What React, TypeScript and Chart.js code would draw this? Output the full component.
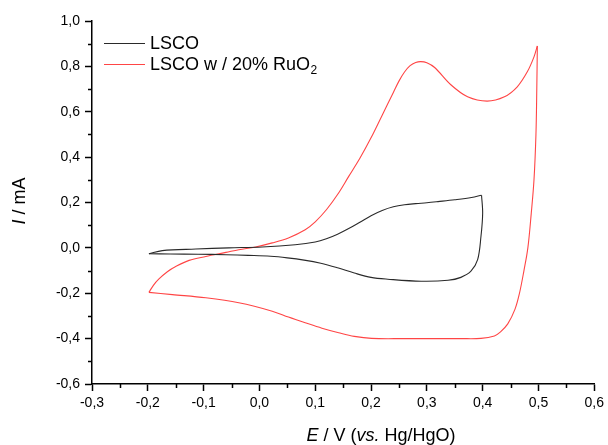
import React, { useEffect, useRef } from "react";
import { Chart, registerables } from "chart.js";
Chart.register(...registerables);

// Axis ranges / tick steps
const xRange = [-0.3, 0.6];
const yRange = [-0.6, 1.0];
const xMajorStep = 0.1;
const yMajorStep = 0.2;
const xMinorTicks = [-0.25, -0.15, -0.05, 0.05, 0.15, 0.25, 0.35, 0.45, 0.55];
const yMinorTicks = [-0.5, -0.3, -0.1, 0.1, 0.3, 0.5, 0.7, 0.9];

// Series labels
const seriesLabels = ["LSCO", "LSCO w / 20% RuO"];

// LSCO (black) – anodic sweep
const lscoFwdE = [-0.198, -0.174, -0.114, -0.055, 0.005, 0.064, 0.1, 0.12, 0.14, 0.16, 0.18, 0.2, 0.22, 0.24, 0.26, 0.28, 0.3, 0.32, 0.35, 0.38, 0.398];
const lscoFwdI = [-0.026, -0.012, -0.005, 0.0, 0.004, 0.014, 0.026, 0.04, 0.06, 0.085, 0.113, 0.142, 0.165, 0.181, 0.19, 0.195, 0.199, 0.204, 0.212, 0.222, 0.232];
// LSCO (black) – cathodic sweep
const lscoRevE = [0.398, 0.4, 0.397, 0.391, 0.379, 0.361, 0.338, 0.29, 0.23, 0.2, 0.17, 0.14, 0.11, 0.08, 0.05, 0.02, -0.02, -0.06, -0.11, -0.16, -0.198];
const lscoRevI = [0.232, 0.153, 0.051, -0.052, -0.103, -0.13, -0.143, -0.147, -0.138, -0.13, -0.111, -0.088, -0.068, -0.054, -0.044, -0.037, -0.033, -0.03, -0.028, -0.027, -0.026];

// LSCO w / 20% RuO2 (red) – anodic sweep
const ruoFwdE = [-0.198, -0.19, -0.18, -0.165, -0.15, -0.126, -0.096, -0.06, -0.037, -0.007, 0.023, 0.052, 0.082, 0.1, 0.12, 0.14, 0.16, 0.18, 0.2, 0.22, 0.24, 0.25, 0.26, 0.27, 0.28, 0.289, 0.3, 0.314, 0.343, 0.373, 0.408, 0.439, 0.462, 0.48, 0.492, 0.498];
const ruoFwdI = [-0.196, -0.165, -0.137, -0.105, -0.082, -0.055, -0.038, -0.02, -0.008, 0.004, 0.022, 0.044, 0.08, 0.115, 0.168, 0.235, 0.315, 0.395, 0.485, 0.585, 0.685, 0.735, 0.775, 0.803, 0.817, 0.821, 0.816, 0.795, 0.719, 0.666, 0.647, 0.666, 0.71, 0.776, 0.842, 0.89];
// LSCO w / 20% RuO2 (red) – cathodic sweep
const ruoRevE = [0.498, 0.497, 0.4955, 0.492, 0.487, 0.481, 0.474, 0.466, 0.458, 0.445, 0.432, 0.421, 0.397, 0.36, 0.32, 0.26, 0.201, 0.17, 0.142, 0.112, 0.082, 0.052, 0.023, -0.037, -0.096, -0.156, -0.198];
const ruoRevI = [0.89, 0.7, 0.5, 0.3, 0.15, 0.0, -0.1, -0.2, -0.27, -0.335, -0.37, -0.388, -0.399, -0.4, -0.4, -0.4, -0.399, -0.39, -0.374, -0.354, -0.33, -0.305, -0.279, -0.242, -0.22, -0.206, -0.196];

const BLACK = "#2a2a2a";
const RED = "#ff4545";
const FONT = "'Liberation Sans', Arial, sans-serif";

const pts = (xs: number[], ys: number[]) => xs.map((x, i) => ({ x, y: ys[i] }));

const fmt = (v: number) => {
  const n = Math.abs(v) < 1e-9 ? 0 : v;
  return n.toFixed(1).replace(".", ",");
};

const decorPlugin = {
  id: "decor",
  afterDraw(chart: any) {
    const ctx = chart.ctx as CanvasRenderingContext2D;
    const xs = chart.scales.x;
    const ys = chart.scales.y;
    const area = chart.chartArea;
    ctx.save();
    // minor ticks
    ctx.strokeStyle = "#000";
    ctx.lineWidth = 1.5;
    ctx.beginPath();
    xMinorTicks.forEach((v) => {
      const px = Math.round(xs.getPixelForValue(v)) + 0.5;
      ctx.moveTo(px, area.bottom);
      ctx.lineTo(px, area.bottom + 4);
    });
    yMinorTicks.forEach((v) => {
      const py = Math.round(ys.getPixelForValue(v)) + 0.5;
      ctx.moveTo(area.left - 4, py);
      ctx.lineTo(area.left, py);
    });
    ctx.stroke();

    // legend
    const legendItems = [
      { color: BLACK, y: 43 },
      { color: RED, y: 64 },
    ];
    legendItems.forEach((it, i) => {
      ctx.strokeStyle = it.color;
      ctx.lineWidth = 1.1;
      ctx.beginPath();
      ctx.moveTo(104, it.y + 0.5);
      ctx.lineTo(145, it.y + 0.5);
      ctx.stroke();
      ctx.fillStyle = "#000";
      ctx.textBaseline = "middle";
      ctx.textAlign = "left";
      ctx.font = `18px ${FONT}`;
      ctx.fillText(seriesLabels[i], 150, it.y + 1);
      if (i === 1) {
        const w = ctx.measureText(seriesLabels[i]).width;
        ctx.font = `12px ${FONT}`;
        ctx.fillText("2", 150 + w + 0.5, it.y + 7);
      }
    });

    // x title
    const xParts = [
      { t: "E", it: true },
      { t: " / V (", it: false },
      { t: "vs.", it: true },
      { t: " Hg/HgO)", it: false },
    ];
    let total = 0;
    xParts.forEach((p) => {
      ctx.font = `${p.it ? "italic " : ""}18px ${FONT}`;
      total += ctx.measureText(p.t).width;
    });
    let cx = 381 - total / 2;
    ctx.textBaseline = "middle";
    ctx.textAlign = "left";
    xParts.forEach((p) => {
      ctx.font = `${p.it ? "italic " : ""}18px ${FONT}`;
      ctx.fillText(p.t, cx, 436);
      cx += ctx.measureText(p.t).width;
    });

    // y title
    const yParts = [
      { t: "I", it: true },
      { t: " / mA", it: false },
    ];
    ctx.translate(20, 201);
    ctx.rotate(-Math.PI / 2);
    total = 0;
    yParts.forEach((p) => {
      ctx.font = `${p.it ? "italic " : ""}18px ${FONT}`;
      total += ctx.measureText(p.t).width;
    });
    cx = -total / 2;
    yParts.forEach((p) => {
      ctx.font = `${p.it ? "italic " : ""}18px ${FONT}`;
      ctx.fillText(p.t, cx, 0);
      cx += ctx.measureText(p.t).width;
    });
    ctx.restore();
  },
};

export default function App() {
  const ref = useRef<HTMLCanvasElement | null>(null);
  useEffect(() => {
    if (!ref.current) return;
    const line = (data: any, color: string) => ({
      data,
      borderColor: color,
      borderWidth: 1.1,
      pointRadius: 0,
      showLine: true,
      tension: 0.35,
      fill: false,
    });
    const chart = new Chart(ref.current, {
      type: "scatter",
      data: {
        datasets: [
          line(pts(lscoFwdE, lscoFwdI), BLACK),
          line(pts(lscoRevE, lscoRevI), BLACK),
          line(pts(ruoFwdE, ruoFwdI), RED),
          line(pts(ruoRevE, ruoRevI), RED),
        ],
      },
      options: {
        animation: false,
        responsive: false,
        layout: { padding: { top: 21, right: 11, left: 0, bottom: 0 } },
        plugins: { legend: { display: false }, tooltip: { enabled: false } },
        scales: {
          x: {
            type: "linear",
            min: xRange[0],
            max: xRange[1],
            afterFit: (s: any) => {
              s.height = 61;
            },
            border: { display: true, color: "#000", width: 1.5 },
            grid: { drawOnChartArea: false, drawTicks: true, tickLength: 7, tickWidth: 1.5, tickColor: "#000" },
            ticks: {
              stepSize: xMajorStep,
              padding: 4,
              color: "#000",
              font: { family: FONT, size: 14 },
              maxRotation: 0,
              callback: (v: any) => fmt(Number(v)),
            },
          },
          y: {
            type: "linear",
            min: yRange[0],
            max: yRange[1],
            afterFit: (s: any) => {
              s.width = 92;
            },
            border: { display: true, color: "#000", width: 1.5 },
            grid: { drawOnChartArea: false, drawTicks: true, tickLength: 7, tickWidth: 1.5, tickColor: "#000" },
            ticks: {
              stepSize: yMajorStep,
              padding: 5,
              color: "#000",
              font: { family: FONT, size: 14 },
              callback: (v: any) => fmt(Number(v)),
            },
          },
        },
      },
      plugins: [decorPlugin],
    } as any);
    return () => chart.destroy();
  }, []);
  return (
    <div style={{ position: "fixed", left: 0, top: 0, width: 608, height: 445, background: "#fff" }}>
      <canvas ref={ref} width={608} height={445} />
    </div>
  );
}
